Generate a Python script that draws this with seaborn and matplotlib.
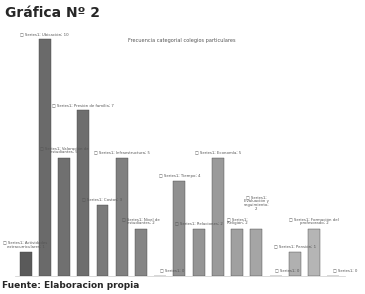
import textwrap
import pandas as pd
import seaborn as sns
import matplotlib.pyplot as plt

# datos
categorias = ["Actividades extracurriculares", "Ubicación", "Valoración de estudiantes",
              "Presión de familia", "Costos", "Infraestructura", "Nivel de estudiantes",
              "Otros", "Tiempo", "Relaciones", "Economía", "Religión",
              "Evaluación y seguimiento", "Amigos", "Pensión", "Formación del profesorado",
              "Ninguno"]
valores = [1, 10, 5, 7, 3, 5, 2, 0, 4, 2, 5, 2, 2, 0, 1, 2, 0]
grises = ["#5a5a5a", "#6a6a6a", "#707070", "#6e6e6e", "#7a7a7a", "#808080", "#858585",
          "#8a8a8a", "#909090", "#959595", "#9a9a9a", "#a0a0a0", "#a5a5a5", "#aaaaaa",
          "#b0b0b0", "#b5b5b5", "#bababa"]

df = pd.DataFrame({"Categoria": categorias, "Valor": valores})

sns.set_style("white")
plt.rcParams['font.family'] = ['DejaVu Sans']

fig = plt.figure(figsize=(3.65, 2.94), dpi=100)
ax = fig.add_axes([0.041, 0.061, 0.904, 0.837])
sns.barplot(data=df, x="Categoria", y="Valor", hue="Categoria", palette=grises,
            legend=False, width=0.62, edgecolor="#444444", linewidth=0.3, ax=ax)

n = len(valores)
for i, (c, v) in enumerate(zip(categorias, valores)):
    txt = "□ Series1; " + (c + "; " if v > 0 else "") + str(v)
    antes = v > 0 and i > 0 and valores[i - 1] == v
    despues = v > 0 and i < n - 1 and valores[i + 1] == v
    if antes or despues:
        txt = textwrap.fill(txt, 12)
    elif len(c) >= 20 and v > 0:
        txt = textwrap.fill(txt, 24)
    x = i + (0.6 if v == 0 else 0)
    y = v + 0.15 + (0.6 if antes else 0)
    ax.text(x, y, txt, ha="center", va="bottom", fontsize=2.8,
            color="#555555", linespacing=1.0)

ax.set_ylim(0, 10.4)
ax.set_xlim(-0.55, 16.6)
ax.set_xticks([])
ax.set_yticks([])
ax.set_xlabel("")
ax.set_ylabel("")
for s in ["top", "right", "left"]:
    ax.spines[s].set_visible(False)
ax.spines["bottom"].set_color("#cccccc")
ax.spines["bottom"].set_linewidth(0.5)

fig.text(0.35, 0.857, "Frecuencia categorial colegios particulares", fontsize=3.6,
         color="#555555", ha="left")
fig.text(0.014, 0.955, "Gráfica Nº 2", fontsize=10, fontweight="bold", ha="left", va="center")
fig.text(0.005, 0.03, "Fuente: Elaboracion propia", fontsize=6.5, fontweight="bold",
         ha="left", va="center")

fig.savefig("out.png", dpi=100)
